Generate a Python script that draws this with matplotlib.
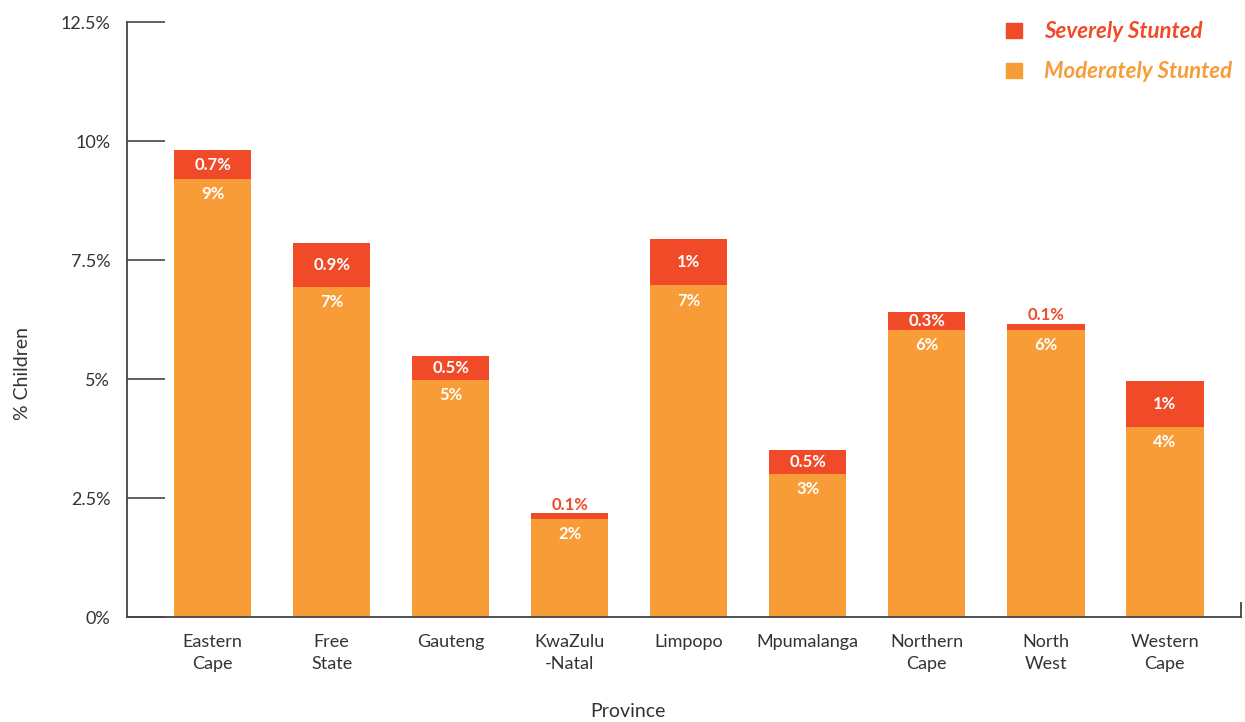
import matplotlib
matplotlib.use("Agg")
import matplotlib.pyplot as plt
import numpy as np
from matplotlib.patches import Patch

plt.rcParams["font.family"] = ["Lato", "DejaVu Sans"]

provinces = ["Eastern\nCape", "Free\nState", "Gauteng", "KwaZulu\n-Natal", "Limpopo",
             "Mpumalanga", "Northern\nCape", "North\nWest", "Western\nCape"]
moderate = [9.2, 6.93, 4.98, 2.06, 6.97, 3.0, 6.03, 6.03, 3.99]
severe = [0.61, 0.93, 0.50, 0.12, 0.97, 0.50, 0.38, 0.13, 0.97]
moderate_labels = ["9%", "7%", "5%", "2%", "7%", "3%", "6%", "6%", "4%"]
severe_labels = ["0.7%", "0.9%", "0.5%", "0.1%", "1%", "0.5%", "0.3%", "0.1%", "1%"]
yticks = [0, 2.5, 5, 7.5, 10, 12.5]
ytick_labels = ["0%", "2.5%", "5%", "7.5%", "10%", "12.5%"]

C_SEV = "#F04A29"
C_MOD = "#F79C36"
C_TXT = "#333333"

fig = plt.figure(figsize=(12.45, 7.22), dpi=100)
ax = fig.add_axes([0.102, 0.1454, 0.8948, 0.8241])

x = np.arange(len(provinces))
ax.bar(x, moderate, width=0.65, color=C_MOD)
ax.bar(x, severe, bottom=moderate, width=0.65, color=C_SEV)

for i in range(len(x)):
    ax.annotate(moderate_labels[i], (x[i], moderate[i]), xytext=(0, -11),
                textcoords="offset points", ha="center", va="center",
                color="white", fontweight="bold", fontsize=12)
    top = moderate[i] + severe[i]
    if severe[i] >= 0.3:
        ax.text(x[i], moderate[i] + severe[i] / 2, severe_labels[i], ha="center",
                va="center", color="white", fontweight="bold", fontsize=12)
    else:
        ax.annotate(severe_labels[i], (x[i], top), xytext=(0, 6),
                    textcoords="offset points", ha="center", va="center",
                    color=C_SEV, fontweight="bold", fontsize=12)

ax.set_xlim(-0.72, 8.64)
ax.set_ylim(0, 12.5)
ax.set_yticks(yticks)
ax.set_yticklabels(ytick_labels)
ax.set_xticks(x)
ax.set_xticklabels(provinces, linespacing=1.5)
ax.tick_params(axis="y", direction="in", length=27, width=1.2, color="#444444",
               labelsize=13, labelcolor=C_TXT, pad=12)
ax.tick_params(axis="x", length=0, labelsize=13, labelcolor=C_TXT, pad=12)

for s in ["top", "right"]:
    ax.spines[s].set_visible(False)
for s in ["left", "bottom"]:
    ax.spines[s].set_color("#444444")
    ax.spines[s].set_linewidth(1.3)
ax.plot([8.64, 8.64], [0, 0.3], color="#444444", lw=1.3, clip_on=False)

ax.set_ylabel("% Children", fontsize=14, color=C_TXT)
ax.yaxis.set_label_coords(-0.086, 0.41)
ax.set_xlabel("Province", fontsize=14, color=C_TXT)
ax.xaxis.set_label_coords(0.45, -0.1445)

handles = [Patch(color=C_SEV), Patch(color=C_MOD)]
ax.legend(handles, ["Severely Stunted", "Moderately Stunted"], loc="upper right",
          bbox_to_anchor=(1.01, 1.035), frameon=False, labelcolor=[C_SEV, C_MOD],
          prop=dict(weight="bold", style="italic", size=16),
          handlelength=0.7, handleheight=0.7, handletextpad=1.0, labelspacing=0.85)

fig.savefig("out.png", dpi=100)
